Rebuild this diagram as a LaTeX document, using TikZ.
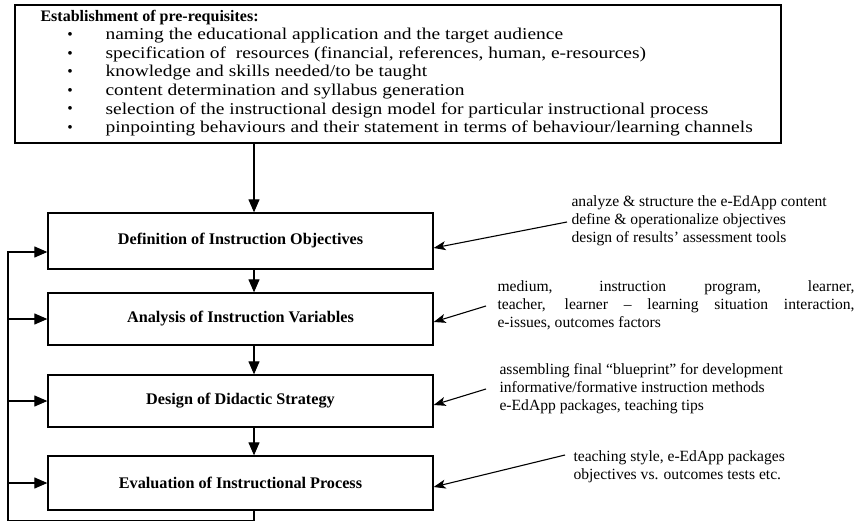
\documentclass[tikz,border=0pt]{standalone}
\usepackage{fontspec}
\setmainfont{Liberation Serif}
\newfontfamily\itemfont[FakeStretch=1.18]{Liberation Serif}
\usetikzlibrary{arrows.meta}
\begin{document}
\begin{tikzpicture}[x=1pt, y=-1pt, line width=1.1pt,
    font=\fontsize{15.6}{18}\selectfont,
    >={Triangle[length=13pt,width=11pt]},
    stagebox/.style={draw, line width=1.3pt, minimum width=385pt, minimum height=52pt,
        font=\fontsize{16.2}{19}\selectfont\bfseries},
    note/.style={inner sep=0pt, anchor=west, align=left},
    hint/.style={-{Stealth[length=12pt,width=9pt,inset=3pt]}}]
\useasboundingbox (0,0) rectangle (857,522);

% pre-requisites
\node[draw, line width=1.3pt, minimum width=766pt, minimum height=138pt] (pre) at (398,74) {};
\node[note] (prehead) at (40,18) {\fontsize{16}{18}\selectfont\bfseries Establishment of pre-requisites:};
\foreach \t [count=\i] in {naming the educational application and the target audience,
    {specification of \ resources (financial, references, human, e-resources)},
    knowledge and skills needed/to be taught,
    content determination and syllabus generation,
    selection of the instructional design model for particular instructional process,
    pinpointing behaviours and their statement in terms of behaviour/learning channels}
{
    \node[inner sep=0pt] (bul\i) at (70,17.5+18.5*\i) {\textbullet};
    \node[note, font=\itemfont\fontsize{16.5}{18.5}\selectfont] (item\i) at (105,17.5+18.5*\i) {\t};
}

% stages
\node[stagebox, minimum height=56pt] (def) at (240.5,241) {Definition of Instruction Objectives};
\node[stagebox] (var) at (240.5,319) {Analysis of Instruction Variables};
\node[stagebox] (strat) at (240.5,401) {Design of Didactic Strategy};
\node[stagebox, minimum height=54pt] (eval) at (240.5,483) {Evaluation of Instructional Process};

\coordinate (spine) at (254,0);
\draw[->] (pre.south -| spine) -- (def.north -| spine);
\draw[->] (def.south -| spine) -- (var.north -| spine);
\draw[->] (var.south -| spine) -- (strat.north -| spine);
\draw[->] (strat.south -| spine) -- (eval.north -| spine);

% feedback loop
\coordinate (loop) at (8,520.5);
\draw[->] (eval.south -| spine) |- (loop) |- ([yshift=-11pt]def.west);
\foreach \s in {var,strat,eval}
    \draw[->] (loop |- \s.west) -- (\s.west);

% notes
\node[note] (objnote) at (571,221) {analyze \& structure the e-EdApp content\\
    define \& operationalize objectives\\design of results' assessment tools};
\node[note] (varnote) at (497,305) {\makebox[357pt][s]{medium, instruction program, learner,}\\
    \makebox[357pt][s]{teacher, learner -- learning situation interaction,}\\e-issues, outcomes factors};
\node[note] (stratnote) at (499,389) {assembling final “blueprint” for development\\
    informative/formative instruction methods\\e-EdApp packages, teaching tips};
\node[note] (evalnote) at (573,467) {teaching style, e-EdApp packages\\objectives vs. outcomes tests etc.};

\coordinate (objfrom) at (567,222);
\coordinate (varfrom) at (486,306);
\coordinate (stratfrom) at (486,389);
\coordinate (evalfrom) at (565,455);
\draw[hint] (objfrom) -- ([yshift=-7pt]def.east);
\draw[hint] (varfrom) -- ([yshift=-3pt]var.east);
\draw[hint] (stratfrom) -- ([yshift=-4pt]strat.east);
\draw[hint] (evalfrom) -- ([yshift=-4pt]eval.east);

\end{tikzpicture}
\end{document}
